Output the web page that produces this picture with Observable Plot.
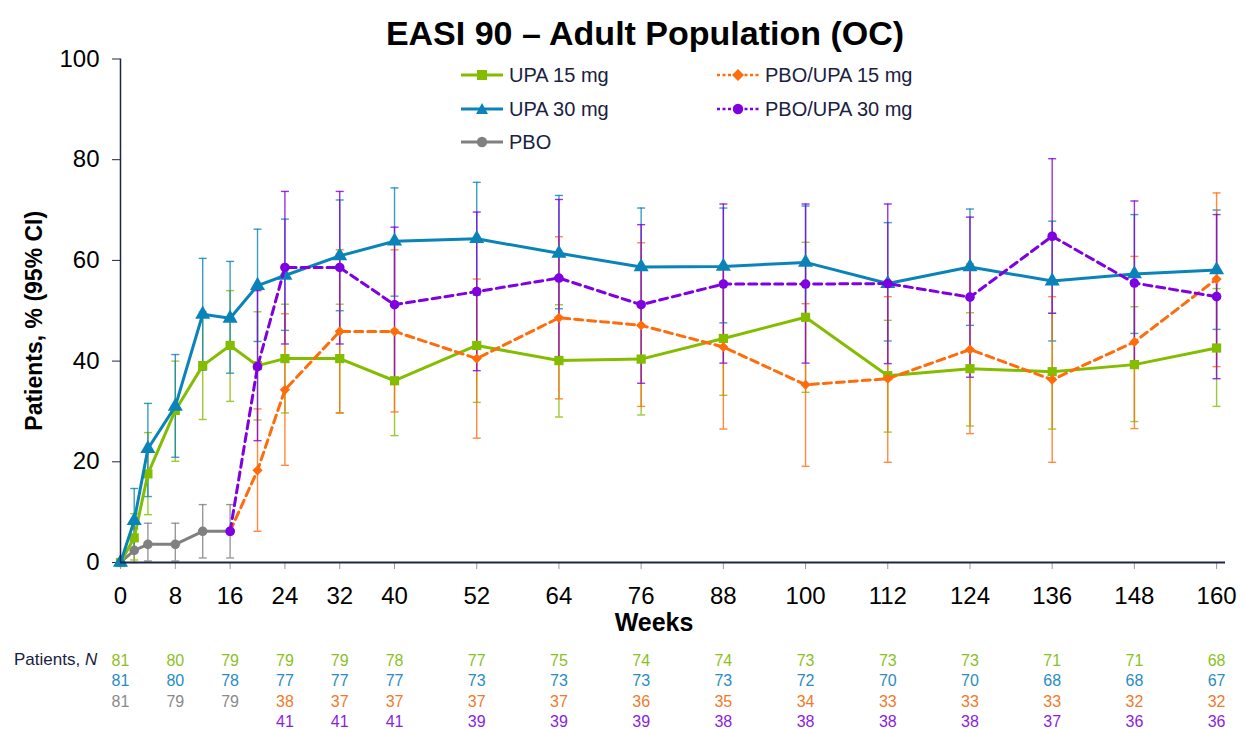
<!DOCTYPE html>
<html><head><meta charset="utf-8">
<script src="https://cdn.jsdelivr.net/npm/d3@7"></script>
<script src="https://cdn.jsdelivr.net/npm/@observablehq/plot@0.6"></script>
<style>
body{margin:0;background:#fff;font-family:Arial,"Liberation Sans",sans-serif;}
#wrap{position:relative;width:1245px;height:729px;overflow:hidden;background:#fff}
#title{position:absolute;left:0;width:1290px;top:13px;text-align:center;font-weight:bold;font-size:34px;color:#000;line-height:40px}
.leg{position:absolute;display:flex;align-items:center;font-size:20px;color:#1a2141;height:24px;line-height:24px}
.leg svg{margin-right:6px}
#pn{position:absolute;left:14px;top:650px;font-size:17px;color:#1a2141;line-height:20px}
</style></head>
<body><div id="wrap"><div id="title">EASI 90 – Adult Population (OC)</div><div id="pn">Patients, <i>N</i></div></div>
<script>
// ---- data ----
const weeks = [0, 2, 4, 8, 12, 16, 20, 24, 32, 40, 52, 64, 76, 88, 100, 112, 124, 136, 148, 160];
const upa15   = [0, 4.9, 17.6, 30.2, 39.1, 43.1, 39.1, 40.5, 40.5, 36.1, 43.1, 40.1, 40.4, 44.5, 48.7, 37.1, 38.5, 37.9, 39.3, 42.6];
const upa15Lo = [null, 0.5, 9.5, 20.1, 28.4, 32.0, 28.3, 29.7, 29.7, 25.2, 31.8, 28.9, 29.3, 33.2, 33.8, 25.9, 27.1, 26.5, 28.0, 31.0];
const upa15Hi = [null, 9.7, 25.8, 40.0, 49.8, 54.0, 49.8, 51.3, 51.3, 46.3, 54.4, 51.2, 51.5, 55.8, 63.6, 48.1, 49.6, 49.5, 50.8, 54.4];
const upa30   = [0, 8.3, 22.6, 31.0, 49.3, 48.5, 55.0, 57.0, 60.9, 63.8, 64.3, 61.4, 58.7, 58.8, 59.6, 55.4, 58.7, 55.9, 57.3, 58.1];
const upa30Lo = [null, 2.6, 13.1, 20.9, 38.2, 37.6, 43.9, 46.1, 50.0, 52.9, 53.1, 50.4, 47.0, 47.6, 48.4, 44.0, 47.1, 44.0, 45.5, 46.3];
const upa30Hi = [null, 14.7, 31.6, 41.3, 60.4, 59.8, 66.2, 68.2, 72.0, 74.4, 75.5, 72.9, 70.4, 70.4, 70.8, 67.5, 70.2, 67.8, 69.1, 70.0];
const pboWeeks = [0, 2, 4, 8, 12, 16];
const pbo   = [0, 2.4, 3.6, 3.6, 6.2, 6.2];
const pboLo = [null, 0, 0.3, 0.3, 0.9, 0.9];
const pboHi = [null, 6.7, 7.8, 7.8, 11.5, 11.5];
const olWeeks = [16, 20, 24, 32, 40, 52, 64, 76, 88, 100, 112, 124, 136, 148, 160];
const pboUpa15   = [6.2, 18.3, 34.3, 45.9, 45.9, 40.5, 48.6, 47.1, 42.8, 35.3, 36.5, 42.3, 36.3, 43.8, 56.3];
const pboUpa15Lo = [null, 6.2, 19.3, 29.7, 29.9, 24.7, 32.5, 31.0, 26.5, 19.1, 19.9, 25.6, 19.9, 26.6, 38.9];
const pboUpa15Hi = [null, 30.5, 49.4, 62.1, 62.1, 56.3, 64.7, 63.5, 59.1, 51.4, 52.8, 59.3, 52.8, 60.8, 73.4];
const pboUpa30   = [6.2, 38.9, 58.6, 58.6, 51.2, 53.8, 56.5, 51.2, 55.3, 55.3, 55.4, 52.7, 64.8, 55.5, 52.8];
const pboUpa30Lo = [null, 24.2, 43.4, 43.4, 35.8, 38.1, 40.9, 35.6, 39.6, 39.6, 39.5, 36.8, 49.5, 39.2, 36.5];
const pboUpa30Hi = [null, 54.0, 73.7, 73.7, 66.6, 69.6, 72.1, 67.1, 71.2, 71.2, 71.2, 68.6, 80.2, 71.8, 69.1];

const xTicks = [0, 8, 16, 24, 32, 40, 52, 64, 76, 88, 100, 112, 124, 136, 148, 160];
const yTicks = [0, 20, 40, 60, 80, 100];

const nWeeks = [0, 8, 16, 24, 32, 40, 52, 64, 76, 88, 100, 112, 124, 136, 148, 160];
const nUpa15 = [81, 80, 79, 79, 79, 78, 77, 75, 74, 74, 73, 73, 73, 71, 71, 68];
const nUpa30 = [81, 80, 78, 77, 77, 77, 73, 73, 73, 73, 72, 70, 70, 68, 68, 67];
const nPboWeeks = [0, 8, 16];
const nPbo = [81, 79, 79];
const nOlWeeks = [24, 32, 40, 52, 64, 76, 88, 100, 112, 124, 136, 148, 160];
const nPboUpa15 = [38, 37, 37, 37, 37, 36, 35, 34, 33, 33, 33, 32, 32];
const nPboUpa30 = [41, 41, 41, 39, 39, 39, 38, 38, 38, 38, 37, 36, 36];

const seriesNames = ["UPA 15 mg", "UPA 30 mg", "PBO", "PBO/UPA 15 mg", "PBO/UPA 30 mg"];
const seriesColors = ["#84bd00", "#0a84b8", "#808080", "#ff6c0c", "#7f00e0"];
const tableColors = ["#8cbf26", "#2a8cc0", "#8a8a8a", "#f07a2a", "#8a1ee0"];

// ---- build ----
const navy = "#1f2744";
function rows(name, xs, v, lo, hi) {
  return xs.map((w, i) => ({series: name, week: w, v: v[i], lo: lo ? lo[i] : null, hi: hi ? hi[i] : null}));
}
const S = {
  "UPA 15 mg": rows("UPA 15 mg", weeks, upa15, upa15Lo, upa15Hi),
  "UPA 30 mg": rows("UPA 30 mg", weeks, upa30, upa30Lo, upa30Hi),
  "PBO": rows("PBO", pboWeeks, pbo, pboLo, pboHi),
  "PBO/UPA 15 mg": rows("PBO/UPA 15 mg", olWeeks, pboUpa15, pboUpa15Lo, pboUpa15Hi),
  "PBO/UPA 30 mg": rows("PBO/UPA 30 mg", olWeeks, pboUpa30, pboUpa30Lo, pboUpa30Hi)
};
const style = {
  "UPA 15 mg": {symbol: "square", r: 5.2, dash: null},
  "UPA 30 mg": {symbol: "triangle", r: 5.6, dash: null},
  "PBO": {symbol: "circle", r: 4.8, dash: null},
  "PBO/UPA 15 mg": {symbol: "diamond2", r: 4.6, dash: "8,5"},
  "PBO/UPA 30 mg": {symbol: "circle", r: 4.8, dash: "8,5"}
};
const cap = {draw(ctx, size) { const w = Math.sqrt(size / Math.PI); ctx.moveTo(-w, 0); ctx.lineTo(w, 0); }};
const colorOf = n => seriesColors[seriesNames.indexOf(n)];
const tcolorOf = n => tableColors[seriesNames.indexOf(n)];

const errMarks = [];
for (const name of ["PBO", "UPA 15 mg", "UPA 30 mg", "PBO/UPA 15 mg", "PBO/UPA 30 mg"]) {
  const d = S[name].filter(r => r.lo != null && r.hi != null);
  errMarks.push(
    Plot.ruleX(d, {x: "week", y1: "lo", y2: "hi", stroke: colorOf(name), strokeWidth: 1.4, strokeOpacity: 0.8}),
    Plot.dot(d, {x: "week", y: "lo", symbol: cap, r: 4, stroke: colorOf(name), strokeWidth: 1.4, strokeOpacity: 0.8, fill: "none"}),
    Plot.dot(d, {x: "week", y: "hi", symbol: cap, r: 4, stroke: colorOf(name), strokeWidth: 1.4, strokeOpacity: 0.8, fill: "none"})
  );
}
const seriesMarks = [];
for (const name of ["PBO", "UPA 15 mg", "UPA 30 mg", "PBO/UPA 15 mg", "PBO/UPA 30 mg"]) {
  const st = style[name];
  seriesMarks.push(
    Plot.line(S[name], {x: "week", y: "v", stroke: colorOf(name), strokeWidth: 3, strokeDasharray: st.dash || undefined}),
    Plot.dot(S[name], {x: "week", y: "v", symbol: st.symbol, r: st.r, fill: colorOf(name), stroke: "none"})
  );
}
const tableRows = [
  nWeeks.map((w, i) => ({week: w, n: nUpa15[i], c: tcolorOf("UPA 15 mg")})),
  nWeeks.map((w, i) => ({week: w, n: nUpa30[i], c: tcolorOf("UPA 30 mg")})),
  nPboWeeks.map((w, i) => ({week: w, n: nPbo[i], c: tcolorOf("PBO")}))
    .concat(nOlWeeks.map((w, i) => ({week: w, n: nPboUpa15[i], c: tcolorOf("PBO/UPA 15 mg")}))),
  nOlWeeks.map((w, i) => ({week: w, n: nPboUpa30[i], c: tcolorOf("PBO/UPA 30 mg")}))
];
const tableMarks = tableRows.map((d, k) =>
  Plot.text(d, {x: "week", text: "n", fill: "c", frameAnchor: "bottom", lineAnchor: "middle", dy: 98 + k * 20.5, fontSize: 16})
);

const chart = Plot.plot({
  width: 1245, height: 729,
  marginLeft: 120, marginRight: 20, marginTop: 58.5, marginBottom: 167,
  x: {domain: [0, 161.3]},
  y: {domain: [0, 100]},
  style: {fontFamily: 'Arial, "Liberation Sans", sans-serif', background: "transparent", overflow: "visible"},
  marks: [
    Plot.axisY({ticks: yTicks, tickSize: 8, tickPadding: 13, fontSize: 24, stroke: navy, fill: "#000", label: null}),
    Plot.axisX({ticks: xTicks, tickSize: 7, tickPadding: 17, fontSize: 24, stroke: "#999", fill: "#000", label: null, tickFormat: d => String(d)}),
    ...errMarks,
    ...seriesMarks,
    Plot.ruleY([0], {stroke: navy, strokeWidth: 2}),
    Plot.ruleX([0], {y1: 0, y2: 100, stroke: navy, strokeWidth: 1.5}),
    Plot.text(["Patients, % (95% CI)"], {frameAnchor: "left", textAnchor: "middle", lineAnchor: "middle", rotate: -90, dx: -86, dy: 10, fontSize: 23, fontWeight: "bold", fill: "#000"}),
    Plot.text(["Weeks"], {frameAnchor: "bottom", lineAnchor: "middle", dy: 60, dx: -19, fontSize: 25, fontWeight: "bold", fill: "#000"}),
    ...tableMarks
  ]
});
chart.style.position = "absolute";
chart.style.left = "0px";
chart.style.top = "0px";
const wrap = document.getElementById("wrap");
wrap.insertBefore(chart, wrap.firstChild);

// ---- legend ----
function swatch(name, dotted) {
  const c = colorOf(name), sym = style[name].symbol;
  let shape;
  if (sym === "square") shape = `<rect x="16" y="5" width="10" height="10" fill="${c}"/>`;
  else if (sym === "triangle") shape = `<path d="M21,4 L27,15 L15,15 Z" fill="${c}"/>`;
  else if (sym === "diamond2") shape = `<path d="M21,4 L27,10 L21,16 L15,10 Z" fill="${c}"/>`;
  else shape = `<circle cx="21" cy="10" r="5.2" fill="${c}"/>`;
  return `<svg width="42" height="20"><line x1="0" y1="10" x2="42" y2="10" stroke="${c}" stroke-width="${dotted ? 2.5 : 3}" ${dotted ? 'stroke-dasharray="3,2.5"' : ''}/>${shape}</svg>`;
}
const legItems = [
  {name: "UPA 15 mg", x: 461, y: 63, dotted: false},
  {name: "UPA 30 mg", x: 461, y: 97, dotted: false},
  {name: "PBO", x: 461, y: 130, dotted: false},
  {name: "PBO/UPA 15 mg", x: 717, y: 63, dotted: true},
  {name: "PBO/UPA 30 mg", x: 717, y: 97, dotted: true}
];
for (const it of legItems) {
  const div = document.createElement("div");
  div.className = "leg";
  div.style.left = it.x + "px";
  div.style.top = it.y + "px";
  div.innerHTML = swatch(it.name, it.dotted) + `<span>${it.name}</span>`;
  wrap.appendChild(div);
}
</script>
</body></html>
